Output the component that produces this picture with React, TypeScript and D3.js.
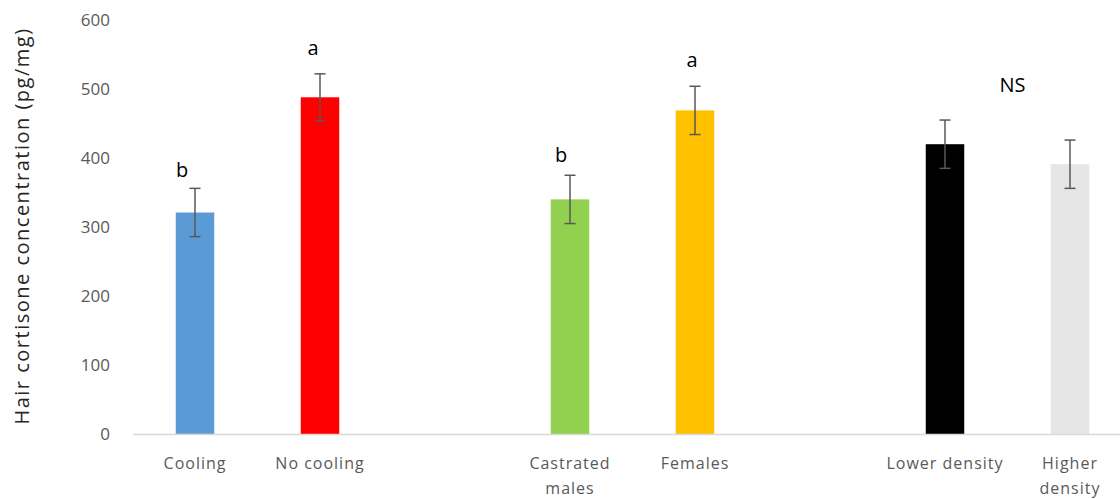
import React from "react";
import * as d3 from "d3";

const groups: string[][] = [
  ["Cooling", "No cooling"],
  ["Castrated males", "Females"],
  ["Lower density", "Higher density"],
];
const categories = ["Cooling", "No cooling", "Castrated males", "Females", "Lower density", "Higher density"];
const means = [321, 488, 340, 469, 420, 391];
const errors = [35, 34, 35, 35, 35, 35];
const colors = ["#5B9BD5", "#FF0000", "#92D050", "#FFC000", "#000000", "#E7E6E6"];
const sigLetters = ["b", "a", "b", "a"];
const groupNote = "NS";
const labelLines: Record<string, string[]> = {
  "Castrated males": ["Castrated", "males"],
  "Higher density": ["Higher", "density"],
};
const yTicks = [0, 100, 200, 300, 400, 500, 600];
const yLabel = "Hair cortisone concentration (pg/mg)";

const W = 1120;
const H = 499;

export default function App() {
  const domain: string[] = [];
  groups.forEach((g, i) => {
    if (i > 0) domain.push(`__gap${i}`);
    g.forEach((c) => domain.push(c));
  });
  const x = d3.scaleBand<string>().domain(domain).range([132.5, 1132.5]).paddingInner(0).paddingOuter(0);
  const y = d3.scaleLinear().domain([0, 600]).range([434, 20]);
  const barW = 38.5;
  const cx = (c: string) => (x(c) as number) + x.bandwidth() / 2;
  const font = "'Open Sans', sans-serif";
  const letterDx = [-13, -7, -9, -3];
  const letterGap = [11, 19, 13, 19];

  return (
    <svg width={W} height={H} style={{ position: "absolute", left: 0, top: 0, background: "#fff" }}>
      <rect width={W} height={H} fill="#fff" />
      {yTicks.map((t) => (
        <text key={t} x={110} y={y(t)} dy="0.35em" textAnchor="end" fontFamily={font} fontSize={17} fill="#595959">
          {t}
        </text>
      ))}
      <text
        transform={`translate(29,${226}) rotate(-90)`}
        textAnchor="middle"
        fontFamily={font}
        fontSize={20}
        letterSpacing={1.5}
        fill="#262626"
      >
        {yLabel}
      </text>
      {categories.map((c, i) => (
        <rect key={c} x={cx(c) - barW / 2} y={y(means[i])} width={barW} height={y(0) - y(means[i])} fill={colors[i]} />
      ))}
      <line x1={133} x2={W} y1={y(0) + 0.5} y2={y(0) + 0.5} stroke="#D9D9D9" strokeWidth={1.5} />
      {categories.map((c, i) => {
        const xc = cx(c);
        const t = y(means[i] + errors[i]);
        const b = y(means[i] - errors[i]);
        return (
          <g key={c} stroke="#595959" strokeWidth={1.5}>
            <line x1={xc} x2={xc} y1={t} y2={b} />
            <line x1={xc - 5.5} x2={xc + 5.5} y1={t} y2={t} />
            <line x1={xc - 5.5} x2={xc + 5.5} y1={b} y2={b} />
          </g>
        );
      })}
      {sigLetters.map((l, i) => (
        <text
          key={i}
          x={cx(categories[i]) + letterDx[i]}
          y={y(means[i] + errors[i]) - letterGap[i]}
          textAnchor="middle"
          fontFamily={font}
          fontSize={20}
          fill="#000"
        >
          {l}
        </text>
      ))}
      <text
        x={(cx(categories[4]) + cx(categories[5])) / 2 + 5}
        y={y(means[4] + errors[4]) - 28}
        textAnchor="middle"
        fontFamily={font}
        fontSize={20}
        fill="#000"
      >
        {groupNote}
      </text>
      {categories.map((c) => {
        const lines = labelLines[c] ?? [c];
        return (
          <text key={c} x={cx(c)} textAnchor="middle" fontFamily={font} fontSize={16} letterSpacing={1} fill="#595959">
            {lines.map((ln, j) => (
              <tspan key={j} x={cx(c)} y={469 + j * 25}>
                {ln}
              </tspan>
            ))}
          </text>
        );
      })}
    </svg>
  );
}
